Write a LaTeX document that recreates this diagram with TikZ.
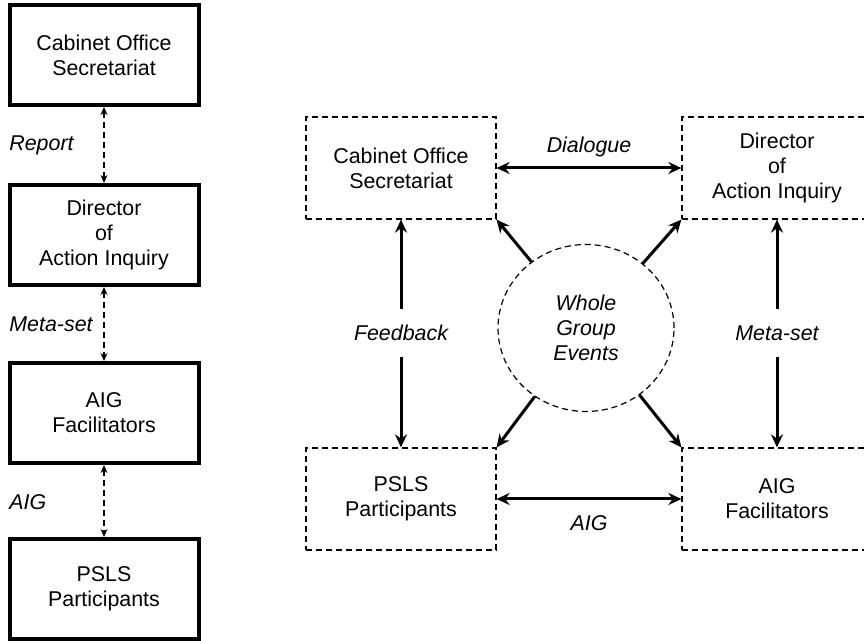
\documentclass[tikz,border=0pt]{standalone}
\usepackage{fontspec}
\setmainfont{Liberation Sans}
\usetikzlibrary{arrows.meta,shapes.geometric}

\begin{document}
\begin{tikzpicture}[
  x=0.5pt,
  y=-0.5pt,
  font=\fontsize{10.7}{12.5}\selectfont,
  solidbox/.style={
    draw,
    line width=2pt,
    align=center,
    inner sep=0pt,
    minimum width=94.5pt,
    minimum height=50pt
  },
  dashbox/.style={
    draw,
    line width=0.6pt,
    dash pattern=on 3pt off 2pt,
    align=center,
    inner sep=0pt,
    minimum width=95pt,
    minimum height=51pt
  },
  link/.style={
    line width=0.6pt,
    dash pattern=on 3pt off 2pt,
    {Stealth[length=4pt,width=3.5pt]}-{Stealth[length=4pt,width=3.5pt]}
  },
  flow/.style={
    line width=1.5pt,
    -{Stealth[length=6.5pt,width=6pt]}
  },
  twoway/.style={
    line width=1.5pt,
    {Stealth[length=6.5pt,width=6pt]}-{Stealth[length=6.5pt,width=6pt]}
  },
  tag/.style={font=\fontsize{10.7}{12.5}\selectfont\itshape}
]
\useasboundingbox (0,0) rectangle (864,641);

% left column
\node[solidbox] (cos) at (104,55) {Cabinet Office\\Secretariat};
\node[solidbox] (dai) at (104,235) {Director\\of\\Action Inquiry};
\node[solidbox] (aigf) at (104,413) {AIG\\Facilitators};
\node[solidbox] (psls) at (104,589) {PSLS\\Participants};
\draw[link] (cos) -- (dai);
\draw[link] (dai) -- (aigf);
\draw[link] (aigf) -- (psls);
\node[tag, anchor=west, inner sep=0pt] (report) at (9,145) {Report};
\node[tag, anchor=west, inner sep=0pt] (metal) at (9,324) {Meta-set};
\node[tag, anchor=west, inner sep=0pt] (aigl) at (9,502) {AIG};

% right diagram
\node[dashbox] (rcos) at (401,168) {Cabinet Office\\Secretariat};
\node[dashbox] (rdai) at (777,168) {Director\\of\\Action Inquiry};
\node[dashbox] (rpsls) at (401,499) {PSLS\\Participants};
\node[dashbox] (raigf) at (777,499) {AIG\\Facilitators};
\node[ellipse, draw, line width=0.6pt, dash pattern=on 3pt off 2pt,
  tag, align=center, inner sep=0pt,
  minimum width=88pt, minimum height=83.5pt] (wge) at (586,328) {Whole\\Group\\Events};

\draw[twoway] (rcos) -- node[tag, above=1.5pt] {Dialogue} (rdai);
\draw[twoway] (rpsls) -- node[tag, below=4.4pt] {AIG} (raigf);

\node[tag, inner sep=0pt, minimum height=23.5pt] (fb) at (401,333) {Feedback};
\node[tag, inner sep=0pt, minimum height=23.5pt] (ms) at (777,333) {Meta-set};
\draw[flow] (fb) -- (rcos);
\draw[flow] (fb) -- (rpsls);
\draw[flow] (ms) -- (rdai);
\draw[flow] (ms) -- (raigf);

\draw[flow] (wge) -- (rcos.south east);
\draw[flow] (wge) -- (rdai.south west);
\draw[flow] (wge) -- (rpsls.north east);
\draw[flow] (wge) -- (raigf.north west);
\end{tikzpicture}
\end{document}
